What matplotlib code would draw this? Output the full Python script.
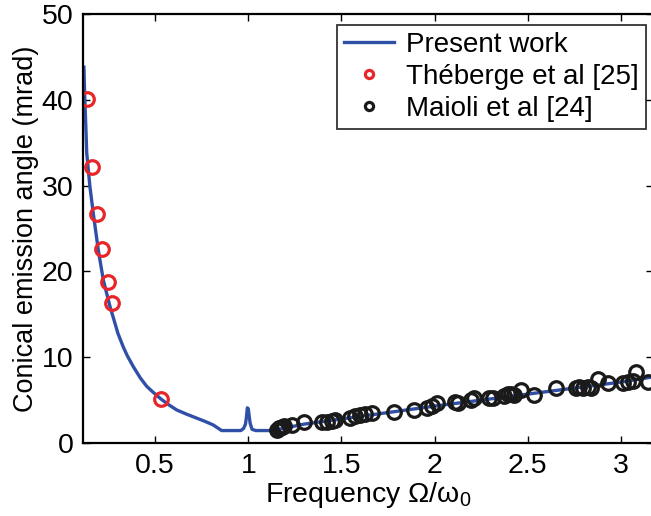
import numpy as np
import matplotlib
matplotlib.use('Agg')
import matplotlib.pyplot as plt

plt.rcParams['font.family'] = ['Liberation Sans', 'DejaVu Sans']
plt.rcParams['mathtext.fontset'] = 'custom'
plt.rcParams['mathtext.rm'] = 'Liberation Sans'
plt.rcParams['mathtext.it'] = 'Liberation Sans'

# present work (curve)
work_x = [0.118, 0.122, 0.128, 0.133, 0.150, 0.168, 0.195, 0.222, 0.258, 0.284,
          0.30, 0.329, 0.35, 0.383, 0.42, 0.455, 0.49, 0.533, 0.57, 0.616,
          0.67, 0.723, 0.77, 0.812, 0.857, 0.96, 0.975, 0.985,
          0.99, 0.995, 1.0, 1.005, 1.01, 1.02, 1.04, 1.13, 1.3, 1.5, 1.75, 2.0,
          2.25, 2.5, 2.75, 3.0, 3.17]
work_y = [43.8, 40.5, 37.0, 33.8, 29.9, 26.8, 22.5, 19.0, 15.9, 14.0,
          12.8, 11.2, 10.2, 8.9, 7.6, 6.6, 5.9, 5.1, 4.5, 3.85,
          3.35, 2.9, 2.5, 2.1, 1.45, 1.45, 1.7, 2.2,
          3.0, 4.1, 4.0, 3.1, 2.3, 1.6, 1.45, 1.45, 2.2, 2.8, 3.55, 4.3,
          5.0, 5.7, 6.4, 7.1, 7.7]

# Theberge et al [25]
theb_x = [0.136, 0.163, 0.186, 0.213, 0.245, 0.270, 0.533]
theb_y = [40.1, 32.2, 26.7, 22.6, 18.8, 16.3, 5.1]

# Maioli et al [24]
maio_x = [1.154, 1.165, 1.170, 1.181, 1.192, 1.235, 1.297, 1.396, 1.422, 1.449,
          1.467, 1.548, 1.574, 1.601, 1.628, 1.664, 1.780, 1.888, 1.959, 1.986,
          2.013, 2.111, 2.124, 2.195, 2.213, 2.294, 2.312, 2.374, 2.392, 2.410,
          2.428, 2.464, 2.535, 2.652, 2.759, 2.777, 2.795, 2.822, 2.839, 2.875,
          2.929, 3.010, 3.037, 3.063, 3.081, 3.144]
maio_y = [1.52, 1.75, 1.75, 1.86, 1.98, 2.10, 2.41, 2.48, 2.48, 2.56,
          2.68, 2.95, 3.18, 3.26, 3.35, 3.46, 3.65, 3.85, 4.11, 4.35,
          4.63, 4.75, 4.63, 5.01, 5.21, 5.28, 5.28, 5.51, 5.68, 5.68,
          5.59, 6.18, 5.59, 6.45, 6.45, 6.56, 6.38, 6.56, 6.45, 7.46,
          6.96, 6.96, 7.14, 7.23, 8.31, 7.14]

x_ticks = [0.5, 1, 1.5, 2, 2.5, 3]
x_tick_labels = ['0.5', '1', '1.5', '2', '2.5', '3']
y_ticks = [0, 10, 20, 30, 40, 50]

fig = plt.figure(figsize=(6.51, 5.16), dpi=100)
ax = fig.add_axes([83 / 651, 1 - 443 / 516, 570 / 651, 429 / 516])

ax.plot(work_x, work_y, color='#3050A8', lw=2.4, label='Present work')
ax.plot(theb_x, theb_y, 'o', mfc='none', mec='#E8262A', ms=9.8, mew=2.3,
        label='Théberge et al [25]')
ax.plot(maio_x, maio_y, 'o', mfc='none', mec='#1a1a1a', ms=9.8, mew=2.3,
        label='Maioli et al [24]')

ax.set_xlim(0.113, 3.172)
ax.set_ylim(0, 50)
ax.set_xticks(x_ticks)
ax.set_xticklabels(x_tick_labels)
ax.set_yticks(y_ticks)
ax.tick_params(direction='in', length=5, width=1, labelsize=20.5,
               top=True, right=True, pad=7)
for s in ax.spines.values():
    s.set_linewidth(1.6)

ax.set_xlabel(r'Frequency $\Omega/\omega_0$', fontsize=20.5, labelpad=1)
ax.set_ylabel('Conical emission angle (mrad)', fontsize=19.5, labelpad=2)

leg = ax.legend(loc='upper right', bbox_to_anchor=(563 / 570, 1 - 11 / 429),
                fontsize=20, frameon=True, fancybox=False, edgecolor='black',
                handlelength=1.8, handletextpad=0.45, labelspacing=0.22,
                borderpad=0.25, markerscale=0.6, borderaxespad=0)
leg.get_frame().set_linewidth(1.3)

fig.savefig('out.png', dpi=100)
